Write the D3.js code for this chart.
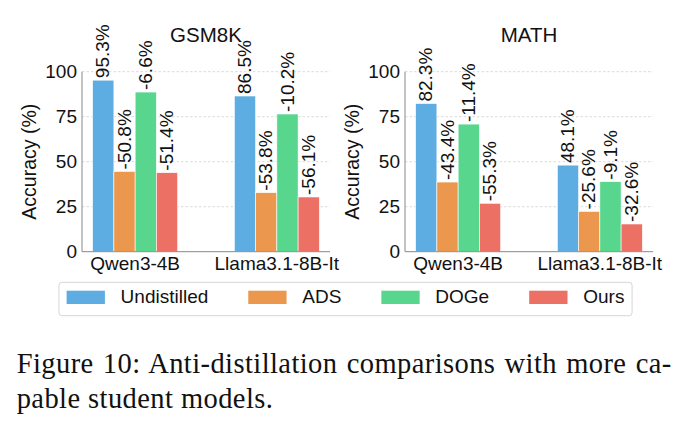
<!DOCTYPE html>
<html>
<head>
<meta charset="utf-8">
<script src="https://cdn.jsdelivr.net/npm/d3@7"></script>
<style>
  body { margin: 0; background: #fff; }
  text { font-family: "Liberation Sans", Arial, Helvetica, sans-serif; fill: #111; }
  .caption { font-family: "Liberation Serif", "Times New Roman", serif; }
</style>
</head>
<body>
<script>
// Data
const models = ["Qwen3-4B", "Llama3.1-8B-It"];
const methods = ["Undistilled", "ADS", "DOGe", "Ours"];
const colors = ["#5DADE2", "#EB984E", "#58D68D", "#EC7063"];
const yTicks = [0, 25, 50, 75, 100];

const gsmUndistilled = [95.3, 86.5];
const gsmADS = [44.6, 32.8];
const gsmDOGe = [88.7, 76.5];
const gsmOurs = [43.9, 30.4];
const gsmLabels = [["95.3%", "86.5%"], ["-50.8%", "-53.8%"], ["-6.6%", "-10.2%"], ["-51.4%", "-56.1%"]];

const mathUndistilled = [82.3, 48.1];
const mathADS = [38.7, 22.4];
const mathDOGe = [70.9, 38.9];
const mathOurs = [26.9, 15.4];
const mathLabels = [["82.3%", "48.1%"], ["-43.4%", "-25.6%"], ["-11.4%", "-9.1%"], ["-55.3%", "-32.6%"]];

const captionLines = ["Figure 10: Anti-distillation comparisons with more ca-", "pable student models."];

const panels = [
    { title: "GSM8K", series: [gsmUndistilled, gsmADS, gsmDOGe, gsmOurs], labels: gsmLabels, x0: 82 },
    { title: "MATH", series: [mathUndistilled, mathADS, mathDOGe, mathOurs], labels: mathLabels, x0: 405 }
];

const W = 691, H = 433;
const plotW = 248, plotTop = 71.7, plotBottom = 251.7;
const barW = 0.15;

const svg = d3.select("body").append("svg")
    .attr("width", W)
    .attr("height", H);

const y = d3.scaleLinear().domain([0, 100]).range([plotBottom, plotTop]);

panels.forEach(p => {
    const x = d3.scaleLinear().domain([-0.375, 1.375]).range([p.x0, p.x0 + plotW]);
    const g = svg.append("g");

    // grid lines
    g.selectAll(".grid")
        .data(yTicks.filter(t => t > 0))
        .enter().append("line")
        .attr("x1", p.x0).attr("x2", p.x0 + plotW)
        .attr("y1", d => y(d)).attr("y2", d => y(d))
        .attr("stroke", "#d0d0d0")
        .attr("stroke-width", 0.8)
        .attr("stroke-dasharray", "2.5,2");

    // bars + value labels
    p.series.forEach((vals, j) => {
        const cx = i => x(i + (j - 1.5) * barW);
        g.selectAll(".bar" + j)
            .data(vals)
            .enter().append("rect")
            .attr("x", (d, i) => cx(i) - (x(barW) - x(0)) / 2)
            .attr("width", x(barW) - x(0))
            .attr("y", d => y(d))
            .attr("height", d => y(0) - y(d))
            .attr("fill", colors[j])
            .attr("stroke", "#fff")
            .attr("stroke-width", 0.6);

        g.selectAll(".lab" + j)
            .data(vals)
            .enter().append("text")
            .attr("transform", (d, i) => `translate(${cx(i)},${y(d) - 2}) rotate(-90)`)
            .attr("dy", "0.32em")
            .style("font-size", "19px")
            .text((d, i) => p.labels[j][i]);
    });

    // spines
    g.append("line")
        .attr("x1", p.x0).attr("x2", p.x0)
        .attr("y1", plotTop).attr("y2", plotBottom)
        .attr("stroke", "#888").attr("stroke-width", 1);
    g.append("line")
        .attr("x1", p.x0).attr("x2", p.x0 + plotW)
        .attr("y1", plotBottom).attr("y2", plotBottom)
        .attr("stroke", "#888").attr("stroke-width", 1);

    // y tick labels
    g.selectAll(".ytick")
        .data(yTicks)
        .enter().append("text")
        .attr("x", p.x0 - 5)
        .attr("y", d => y(d))
        .attr("dy", "0.35em")
        .attr("text-anchor", "end")
        .style("font-size", "19px")
        .text(d => d);

    // x tick labels
    g.selectAll(".xtick")
        .data(models)
        .enter().append("text")
        .attr("x", (d, i) => x(i))
        .attr("y", plotBottom + 18.5)
        .attr("text-anchor", "middle")
        .style("font-size", "19px")
        .text(d => d);

    // y axis label
    g.append("text")
        .attr("transform", `translate(${p.x0 - 46},${(plotTop + plotBottom) / 2}) rotate(-90)`)
        .attr("text-anchor", "middle")
        .style("font-size", "19.5px")
        .text("Accuracy (%)");

    // title
    g.append("text")
        .attr("x", p.x0 + plotW / 2)
        .attr("y", 41.7)
        .attr("text-anchor", "middle")
        .style("font-size", "20.5px")
        .text(p.title);
});

// Legend
const legend = svg.append("g");
const legendBox = legend.append("rect")
    .attr("y", 282.3)
    .attr("height", 33.4)
    .attr("rx", 3)
    .attr("fill", "#fff")
    .attr("stroke", "#d6d6d6")
    .attr("stroke-width", 1);

let lx = 0;
const items = legend.append("g");
methods.forEach((m, i) => {
    items.append("rect")
        .attr("x", lx)
        .attr("y", 290.7)
        .attr("width", 38.3)
        .attr("height", 13.3)
        .attr("fill", colors[i]);
    const t = items.append("text")
        .attr("x", lx + 54)
        .attr("y", 303.3)
        .style("font-size", "19px")
        .text(m);
    lx += 54 + t.node().getComputedTextLength() + 40;
});
const itemsW = lx - 40;
const lx0 = (W - itemsW) / 2;
items.attr("transform", `translate(${lx0},0)`);
legendBox.attr("x", lx0 - 7.7).attr("width", itemsW + 15.4);

// Caption (first line justified like the LaTeX source)
const capX = 16.7;
const cap1 = svg.append("text").attr("class", "caption")
    .attr("x", capX).attr("y", 373.3)
    .style("font-size", "28.5px")
    .text(captionLines[0]);
const cap2 = svg.append("text").attr("class", "caption")
    .attr("x", capX).attr("y", 407.5)
    .style("font-size", "28.5px")
    .text(captionLines[1]);

const ls = (273.3 - capX - cap2.node().getComputedTextLength()) / captionLines[1].length;
cap1.style("letter-spacing", ls + "px");
cap2.style("letter-spacing", ls + "px");
const nSpaces = captionLines[0].split(" ").length - 1;
const ws = (671.7 - capX - cap1.node().getComputedTextLength()) / nSpaces;
cap1.style("word-spacing", ws + "px");
</script>
</body>
</html>
